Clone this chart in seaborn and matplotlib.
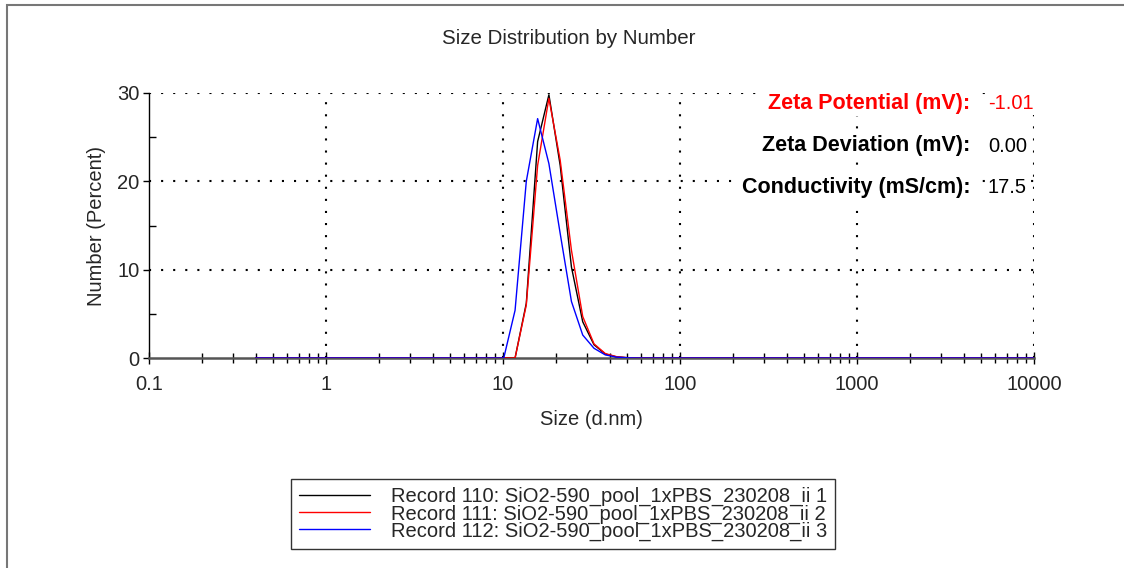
import matplotlib
matplotlib.use("Agg")
import matplotlib.pyplot as plt
from matplotlib.patches import Rectangle
from matplotlib.ticker import FixedLocator, NullFormatter
import numpy as np
import pandas as pd
import seaborn as sns

# Size classes (d.nm)
sizes = [0.4, 0.4632, 0.5365, 0.6213, 0.7195, 0.8332, 0.9649, 1.117, 1.294, 1.499,
         1.736, 2.010, 2.328, 2.696, 3.122, 3.615, 4.187, 4.849, 5.615, 6.503,
         7.531, 8.721, 10.10, 11.70, 13.54, 15.69, 18.17, 21.04, 24.36, 28.21,
         32.67, 37.84, 43.82, 50.75, 58.77, 68.06, 78.82, 91.28, 105.7, 122.4,
         141.8, 164.2, 190.1, 220.2, 255.0, 295.3, 342.0, 396.1, 458.7, 531.2,
         615.1, 712.4, 825.0, 955.4, 1106, 1281, 1484, 1718, 1990, 2305,
         2669, 3091, 3580, 4145, 4801, 5560, 6439, 7456, 8635, 10000]

# Number distribution (%) per record
record_110 = [0, 0, 0, 0, 0, 0, 0, 0, 0, 0,
              0, 0, 0, 0, 0, 0, 0, 0, 0, 0,
              0, 0, 0, 0, 6.2, 24.5, 29.8, 21.8, 10.3, 4.1,
              1.5, 0.45, 0.12, 0.03, 0, 0, 0, 0, 0, 0,
              0, 0, 0, 0, 0, 0, 0, 0, 0, 0,
              0, 0, 0, 0, 0, 0, 0, 0, 0, 0,
              0, 0, 0, 0, 0, 0, 0, 0, 0, 0]
record_111 = [0, 0, 0, 0, 0, 0, 0, 0, 0, 0,
              0, 0, 0, 0, 0, 0, 0, 0, 0, 0,
              0, 0, 0, 0, 6.0, 21.8, 29.4, 22.4, 12.2, 4.7,
              1.6, 0.5, 0.15, 0.03, 0, 0, 0, 0, 0, 0,
              0, 0, 0, 0, 0, 0, 0, 0, 0, 0,
              0, 0, 0, 0, 0, 0, 0, 0, 0, 0,
              0, 0, 0, 0, 0, 0, 0, 0, 0, 0]
record_112 = [0, 0, 0, 0, 0, 0, 0, 0, 0, 0,
              0, 0, 0, 0, 0, 0, 0, 0, 0, 0,
              0, 0, 0, 5.4, 20.0, 27.1, 22.0, 14.1, 6.4, 2.6,
              1.1, 0.35, 0.1, 0.02, 0, 0, 0, 0, 0, 0,
              0, 0, 0, 0, 0, 0, 0, 0, 0, 0,
              0, 0, 0, 0, 0, 0, 0, 0, 0, 0,
              0, 0, 0, 0, 0, 0, 0, 0, 0, 0]

record_names = ["Record 110: SiO2-590_pool_1xPBS_230208_ii 1",
                "Record 111: SiO2-590_pool_1xPBS_230208_ii 2",
                "Record 112: SiO2-590_pool_1xPBS_230208_ii 3"]
record_colors = ["#000000", "#ff0000", "#0000ff"]

x_ticks = [0.1, 1, 10, 100, 1000, 10000]
x_tick_labels = ["0.1", "1", "10", "100", "1000", "10000"]
y_ticks = [0, 10, 20, 30]

zeta_labels = ["Zeta Potential (mV):", "Zeta Deviation (mV):", "Conductivity (mS/cm):"]
zeta_values = ["-1.01", "0.00", "17.5"]
zeta_colors = ["#ff0000", "#000000", "#000000"]

df = pd.concat([
    pd.DataFrame({"Size": sizes, "Number": vals, "Record": name})
    for name, vals in zip(record_names, [record_110, record_111, record_112])
])

sns.set_style("white")
plt.rcParams["font.family"] = ["Liberation Sans", "DejaVu Sans"]

FS = 14.5
FS_BOLD = 15.5
fig = plt.figure(figsize=(11.24, 5.68), dpi=100)
ax = fig.add_axes([149 / 1124, 1 - 358 / 568, 885 / 1124, 265 / 568])

sns.lineplot(data=df, x="Size", y="Number", hue="Record", hue_order=record_names,
             palette=record_colors, linewidth=1.0, ax=ax, legend=True, zorder=4)

ax.set_xscale("log")
ax.set_xlim(0.1, 10000)
ax.set_ylim(0, 30)

# ticks
ax.xaxis.set_major_locator(FixedLocator(x_ticks))
ax.set_xticklabels(x_tick_labels)
minor_x = [m * d for d in [0.1, 1, 10, 100, 1000] for m in range(2, 10)]
ax.xaxis.set_minor_locator(FixedLocator(minor_x))
ax.xaxis.set_minor_formatter(NullFormatter())
ax.yaxis.set_major_locator(FixedLocator(y_ticks))
ax.yaxis.set_minor_locator(FixedLocator([5, 15, 25]))
ax.tick_params(axis="x", which="major", direction="inout", length=8, width=1,
               color="black", labelsize=FS, pad=8)
ax.tick_params(axis="x", which="minor", direction="inout", length=7, width=1,
               color="black")
ax.tick_params(axis="y", which="major", direction="out", length=4, width=1,
               color="black", labelsize=FS, pad=3)
ax.tick_params(axis="y", which="minor", direction="in", length=5, width=1,
               color="black")
ax.tick_params(bottom=True, left=True, which="both")

# dotted grid
for v in x_ticks[1:]:
    ax.axvline(v, color="black", lw=1.5, ls=(0, (1, 4.8)), zorder=1)
for v in y_ticks[1:]:
    ax.axhline(v, color="black", lw=1.5, ls=(0, (1, 4.8)), zorder=1)

for s in ["top", "right"]:
    ax.spines[s].set_visible(False)
ax.spines["left"].set_color("black")
ax.spines["left"].set_linewidth(1.0)
ax.spines["bottom"].set_color("#555555")
ax.spines["bottom"].set_linewidth(1.8)

ax.set_xlabel("Size (d.nm)", fontsize=FS, labelpad=12)
ax.set_ylabel("Number (Percent)", fontsize=FS, labelpad=8)

# zeta summary block
row_y = [0.962, 0.80, 0.643]
for lab, val, col, yy in zip(zeta_labels, zeta_values, zeta_colors, row_y):
    ax.text(0.9277, yy, lab, transform=ax.transAxes, ha="right", va="center",
            fontsize=FS_BOLD, fontweight="bold", color=col, zorder=5,
            bbox=dict(facecolor="white", edgecolor="none", pad=2))
    ax.text(0.948, yy, val, transform=ax.transAxes, ha="left", va="center",
            fontsize=FS, color=col, zorder=5,
            bbox=dict(facecolor="white", edgecolor="none", pad=2))

fig.text(569 / 1124, 1 - 38 / 568, "Size Distribution by Number", ha="center",
         va="center", fontsize=14.8)

# legend below the plot
handles, labels = ax.get_legend_handles_labels()
ax.get_legend().remove()
leg = fig.legend(handles, labels, loc="upper left",
                 bbox_to_anchor=(291 / 1124, 1 - 479 / 568),
                 fontsize=FS, frameon=True, fancybox=False, framealpha=1,
                 edgecolor="#333333", handlelength=3.5, handletextpad=1.05,
                 labelspacing=-0.1, borderpad=0.4, borderaxespad=0)
leg.get_frame().set_linewidth(1.0)
for h in leg.get_lines():
    h.set_linewidth(1.0)

# outer frame (top and left edges)
fig.add_artist(Rectangle((7 / 1124, -0.1), 1.2, 1 - 5 / 568 + 0.1,
                         transform=fig.transFigure, fill=False,
                         edgecolor="#777777", linewidth=1.5))

fig.savefig("out.png", dpi=100)
